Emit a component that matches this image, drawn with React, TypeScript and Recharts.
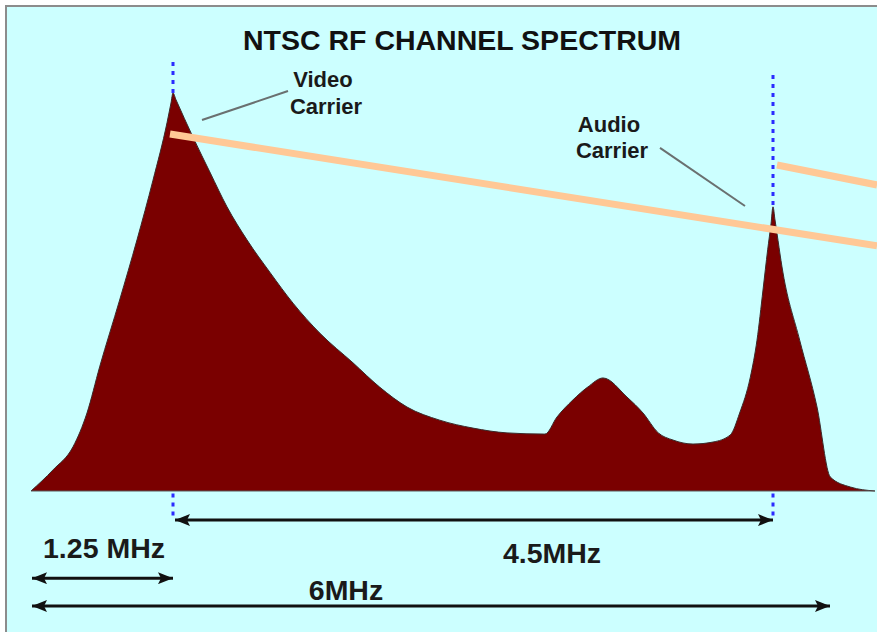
import { Area, ComposedChart, ReferenceDot, ReferenceLine, XAxis, YAxis } from 'recharts';

// Schematic frequency position (MHz) and relative level (% of video carrier peak)
const freq = [
  0.185, 0.35, 0.5, 0.605, 0.7, 0.85, 0.98, 1.1, 1.205, 1.235, 1.25, 1.2725, 1.4, 1.53, 1.655, 1.805,
  1.98, 2.15, 2.35, 2.6, 2.8, 3.005, 3.25, 3.5, 3.755, 4.04, 4.13, 4.25, 4.36, 4.475, 4.655, 4.775,
  4.89, 5.0, 5.15, 5.3, 5.43, 5.5, 5.58, 5.63, 5.675, 5.71, 5.735, 5.75, 5.765, 5.825, 5.95, 6.08,
  6.18, 6.33, 6.515,
];
const level = [
  0, 5.3, 11.1, 19.6, 31.2, 48.0, 63.1, 78.1, 92.5, 97.5, 100, 98.3, 88.9, 79.9, 71.4, 63.1,
  54.8, 47.2, 39.7, 32.2, 26.1, 21.1, 17.8, 15.8, 14.6, 14.3, 18.6, 22.9, 26.1, 28.4, 23.6, 19.6,
  14.6, 12.8, 11.8, 12.3, 14.1, 19.6, 28.6, 37.9, 50.5, 60.6, 67.1, 71.4, 68.1, 54.8, 37.9, 21.1,
  3.5, 1.0, 0,
];

// carriers: position, peak level, top of the dotted marker
const carrierFreq = [1.25, 5.75];
const carrierPeak = [100, 71.4];
const carrierMarkTop = [107.8, 104.5];

// dimension arrows below the baseline
const spanFrom = [1.265, 0.1925, 0.1925];
const spanTo = [5.75, 1.25, 6.1775];
const spanLevel = [-7.3, -21.9, -28.9];

// text annotations
const noteText = ['1.25 MHz', '4.5MHz', '6MHz', 'Video', 'Carrier', 'Audio', 'Carrier'];
const noteFreq = [0.7325, 4.0925, 2.5475, 2.375, 2.3975, 4.52, 4.5425];
const noteLevel = [-16.8, -18.1, -27.4, 101.5, 94.85, 90.2, 83.67];
const noteBig = [true, true, true, false, false, false, false];

// callout leaders from the carrier labels
const leaderFrom = [
  { f: 1.4675, l: 93.2 },
  { f: 4.9025, l: 86.2 },
];
const leaderTo = [
  { f: 2.1125, l: 100.5 },
  { f: 5.54, l: 71.6 },
];

// the two stray peach strokes over the drawing
const stripeFrom = [
  { f: 1.2275, l: 89.7 },
  { f: 5.78, l: 81.9 },
];
const stripeTo = [
  { f: 6.53, l: 61.6 },
  { f: 6.53, l: 76.9 },
];

const spectrum = freq.map((f, i) => ({ f, level: level[i] }));

const FONT = '"Liberation Sans", Arial, sans-serif';

export default function App() {
  return (
    <div style={{ position: 'absolute', left: 0, top: 0, width: 877, height: 632, background: '#fff' }}>
      <div
        style={{
          position: 'absolute',
          left: 5,
          top: 5,
          right: 0,
          bottom: 0,
          background: '#ccffff',
          borderLeft: '2px solid #8c8c8c',
          borderTop: '2px solid #8c8c8c',
        }}
      />
      <div style={{ position: 'absolute', left: 0, top: 0 }}>
        <ComposedChart width={877} height={632} data={spectrum} margin={{ top: 0, right: 0, bottom: 0, left: 0 }}>
          <defs>
            <marker
              id="head"
              viewBox="0 0 15 12"
              refX={15}
              refY={6}
              markerWidth={15}
              markerHeight={12}
              markerUnits="userSpaceOnUse"
              orient="auto-start-reverse"
            >
              <path d="M0,0 L15,6 L0,12 L3,6 z" fill="#111" />
            </marker>
          </defs>
          <XAxis type="number" dataKey="f" domain={[-0.0475, 6.53]} hide allowDataOverflow />
          <YAxis type="number" domain={[-35.43, 123.37]} hide allowDataOverflow />
          <Area
            type="monotone"
            dataKey="level"
            baseValue={0}
            fill="#7a0000"
            fillOpacity={1}
            stroke="#3a2a2a"
            strokeWidth={1}
            dot={false}
            activeDot={false}
            isAnimationActive={false}
          />
          <ReferenceLine
            segment={[
              { x: freq[0], y: 0 },
              { x: freq[freq.length - 1], y: 0 },
            ]}
            stroke="#555"
            strokeWidth={1}
            ifOverflow="visible"
          />
          {carrierFreq.map((f, i) => (
            <ReferenceLine
              key={`top${i}`}
              segment={[
                { x: f, y: carrierMarkTop[i] },
                { x: f, y: carrierPeak[i] },
              ]}
              stroke="#2b2bff"
              strokeWidth={3}
              strokeDasharray="4 5"
              ifOverflow="visible"
            />
          ))}
          {carrierFreq.map((f, i) => (
            <ReferenceLine
              key={`bot${i}`}
              segment={[
                { x: f, y: -0.6 },
                { x: f, y: spanLevel[0] },
              ]}
              stroke="#2b2bff"
              strokeWidth={3}
              strokeDasharray="4 5"
              ifOverflow="visible"
            />
          ))}
          {stripeFrom.map((p, i) => (
            <ReferenceLine
              key={`stripe${i}`}
              segment={[
                { x: p.f, y: p.l },
                { x: stripeTo[i].f, y: stripeTo[i].l },
              ]}
              stroke="#ffc896"
              strokeWidth={7}
              ifOverflow="visible"
            />
          ))}
          {leaderFrom.map((p, i) => (
            <ReferenceLine
              key={`lead${i}`}
              segment={[
                { x: p.f, y: p.l },
                { x: leaderTo[i].f, y: leaderTo[i].l },
              ]}
              stroke="#6a7070"
              strokeWidth={2}
              ifOverflow="visible"
            />
          ))}
          {spanFrom.map((f, i) => (
            <ReferenceLine
              key={`span${i}`}
              segment={[
                { x: f, y: spanLevel[i] },
                { x: spanTo[i], y: spanLevel[i] },
              ]}
              ifOverflow="visible"
              shape={(p: any) => (
                <line
                  x1={p.x1}
                  y1={p.y1}
                  x2={p.x2}
                  y2={p.y2}
                  stroke="#111"
                  strokeWidth={3}
                  markerStart="url(#head)"
                  markerEnd="url(#head)"
                />
              )}
            />
          ))}
          {noteText.map((t, i) => (
            <ReferenceDot
              key={`note${i}`}
              x={noteFreq[i]}
              y={noteLevel[i]}
              ifOverflow="visible"
              shape={(p: any) => (
                <text
                  x={p.cx}
                  y={p.cy}
                  textAnchor="middle"
                  fontFamily={FONT}
                  fontWeight="bold"
                  fontSize={noteBig[i] ? 28.5 : 22}
                  fill="#1a1a1a"
                >
                  {t}
                </text>
              )}
            />
          ))}
          <text
            x={462}
            y={50}
            textAnchor="middle"
            fontFamily={FONT}
            fontWeight="bold"
            fontSize={28.5}
            fill="#111"
          >
            NTSC RF CHANNEL SPECTRUM
          </text>
        </ComposedChart>
      </div>
    </div>
  );
}
